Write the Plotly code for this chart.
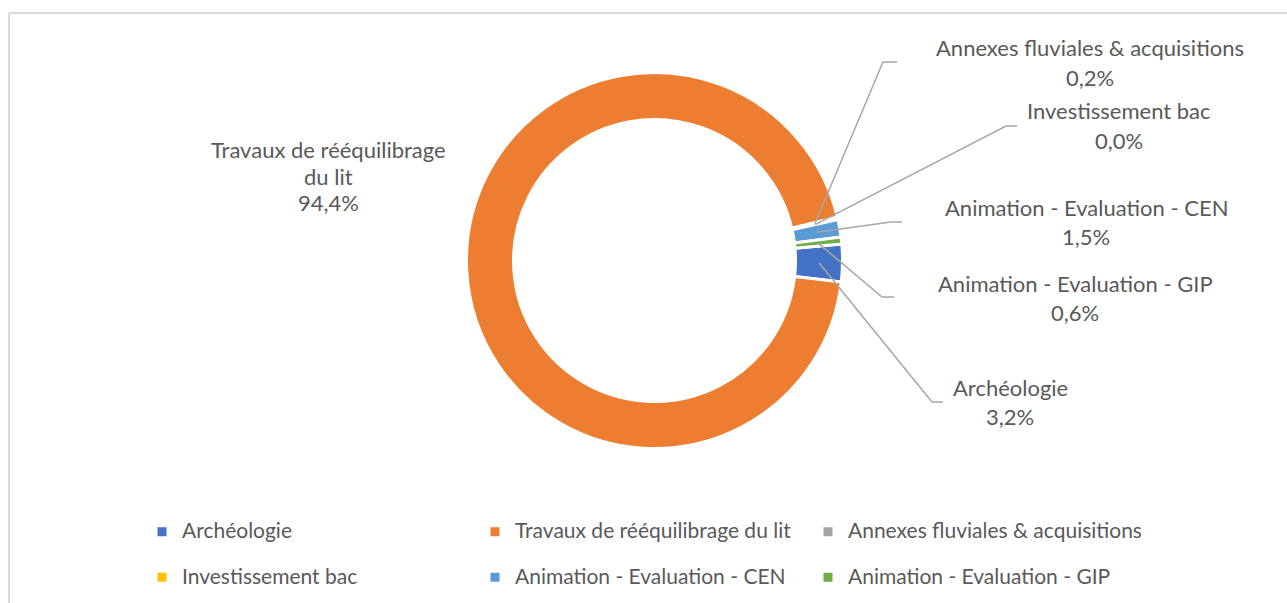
import math
import plotly.graph_objects as go

# ---- data ----
labels = ["Archéologie", "Travaux de rééquilibrage du lit", "Annexes fluviales & acquisitions",
          "Investissement bac", "Animation - Evaluation - CEN", "Animation - Evaluation - GIP"]
values = [3.2, 94.4, 0.2, 0.0, 1.5, 0.6]
colors = ["#4472C4", "#ED7D31", "#A5A5A5", "#FFC000", "#5B9BD5", "#70AD47"]

# ---- layout constants (pixels) ----
W, H = 1287, 603
CX, CY, R = 654.5, 260.5, 188
HOLE = 0.75
ROT = 85
FONT = "Lato"
FS = 22
FS_LEG = 21
TXT = "#595959"
LINE = "#A6A6A6"

label_pos = {
    "Travaux de rééquilibrage du lit": dict(cx=328, lines=[("Travaux de rééquilibrage", 149), ("du lit", 176)], py=202, lead=None),
    "Annexes fluviales & acquisitions": dict(cx=1090, lines=[(None, 48)], py=78, lead=((883, 62), (897, 62))),
    "Investissement bac": dict(cx=1119, lines=[(None, 111)], py=140.5, lead=((1006, 126), (1017, 126))),
    "Animation - Evaluation - CEN": dict(cx=1086, lines=[(None, 207.5)], py=236, lead=((891, 222), (902, 222))),
    "Animation - Evaluation - GIP": dict(cx=1075, lines=[(None, 283)], py=312, lead=((882, 297), (894, 297))),
    "Archéologie": dict(cx=1010, lines=[(None, 387.5)], py=416.5, lead=((932, 402), (943, 402))),
}

def px(x):
    return x / W

def py_(y):
    return 1 - y / H

legend_labels = [f"<span style='font-size:{FS_LEG}px'>{l}</span><br>\u00a0" for l in labels]

fig = go.Figure(go.Pie(
    labels=legend_labels,
    values=values,
    marker=dict(colors=colors, line=dict(color="white", width=3)),
    hole=HOLE,
    sort=False,
    direction="clockwise",
    rotation=ROT,
    textinfo="none",
    hoverinfo="label+percent",
    domain=dict(x=[px(CX - R), px(CX + R)], y=[py_(CY + R), py_(CY - R)]),
))

annotations = []
shapes = []
total = sum(values)
cum = 0.0
r_mid = R * (1 + HOLE) / 2
for lab, v in zip(labels, values):
    mid = math.radians(ROT + (cum + v / 2) / total * 360)
    cum += v
    lp = label_pos[lab]
    for txt, y in lp["lines"]:
        annotations.append(dict(x=px(lp["cx"]), y=py_(y), xref="paper", yref="paper",
                                text=txt if txt else lab, showarrow=False,
                                xanchor="center", yanchor="middle",
                                font=dict(family=FONT, size=FS, color=TXT)))
    pct = f"{v:.1f}%".replace(".", ",")
    annotations.append(dict(x=px(lp["cx"]), y=py_(lp["py"]), xref="paper", yref="paper",
                            text=pct, showarrow=False, xanchor="center", yanchor="middle",
                            font=dict(family=FONT, size=FS, color=TXT)))
    if lp["lead"]:
        sx = CX + r_mid * math.sin(mid)
        sy = CY - r_mid * math.cos(mid)
        (bx, by), (ex, ey) = lp["lead"]
        path = f"M {px(sx)} {py_(sy)} L {px(bx)} {py_(by)} L {px(ex)} {py_(ey)}"
        shapes.append(dict(type="path", path=path, xref="paper", yref="paper",
                           line=dict(color=LINE, width=1.5)))

# chart-area border (top and left visible)
shapes.append(dict(type="line", xref="paper", yref="paper", x0=px(9), x1=1, y0=py_(13), y1=py_(13),
                   line=dict(color="#D9D9D9", width=2)))
shapes.append(dict(type="line", xref="paper", yref="paper", x0=px(9), x1=px(9), y0=py_(13), y1=0,
                   line=dict(color="#D9D9D9", width=2)))

fig.update_layout(
    width=W, height=H,
    margin=dict(l=0, r=0, t=0, b=0, autoexpand=False),
    paper_bgcolor="white", plot_bgcolor="white",
    annotations=annotations,
    shapes=shapes,
    showlegend=True,
    legend=dict(
        orientation="h",
        x=px(142), xanchor="left",
        y=py_(514.5), yanchor="top",
        entrywidth=288, entrywidthmode="pixels",
        font=dict(family=FONT, size=16.35, color=TXT),
        valign="top",
        bgcolor="rgba(0,0,0,0)",
        traceorder="normal",
    ),
)

fig.write_html("out.html", config={"displayModeBar": False},
               post_script="document.body.style.margin='0';")
